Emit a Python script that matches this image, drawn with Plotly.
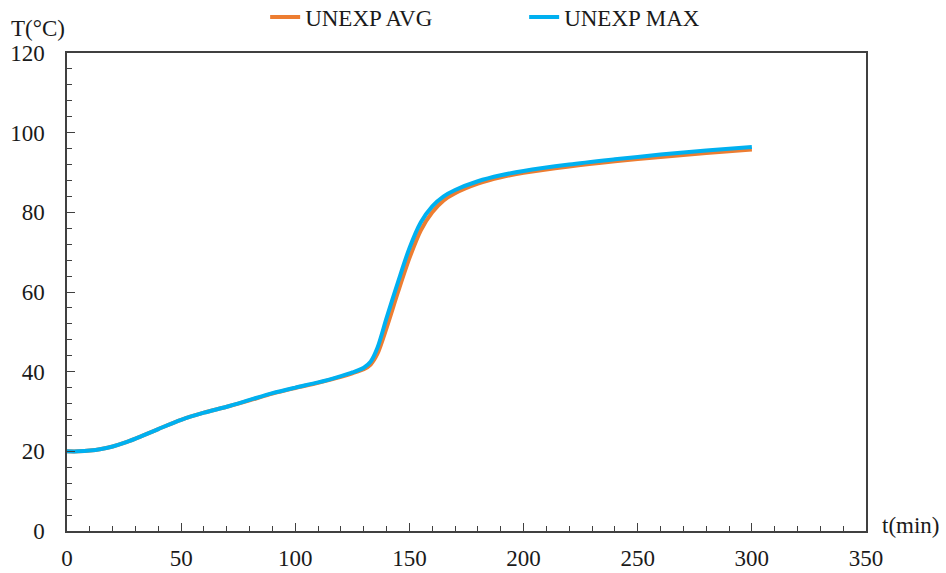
import plotly.graph_objects as go

t_min = [0, 5, 10, 15, 20, 25, 30, 40, 50, 60, 70, 80, 90, 100, 110, 120, 125, 130, 133, 136,
         140, 145, 150, 155, 160, 165, 170, 180, 190, 200, 220, 240, 260, 280, 300]
unexp_max = [20, 20, 20.2, 20.6, 21.2, 22.1, 23.2, 25.6, 27.9, 29.7, 31.2, 32.9, 34.6, 36.0, 37.3,
             38.9, 39.8, 41.0, 42.5, 46.0, 53.5, 62.5, 71.0, 77.5, 81.5, 84.0, 85.6, 87.8, 89.3,
             90.4, 92.0, 93.3, 94.5, 95.5, 96.4]
unexp_avg = [20, 20, 20.2, 20.6, 21.2, 22.1, 23.2, 25.6, 27.9, 29.7, 31.2, 32.8, 34.5, 35.9, 37.2,
             38.7, 39.6, 40.6, 41.8, 44.5, 51.0, 60.0, 68.5, 75.5, 80.0, 83.0, 84.8, 87.2, 88.8,
             89.9, 91.5, 92.8, 93.9, 94.9, 95.8]

FONT = "Liberation Serif"
FS = 23
TXT = "#1a1a1a"

fig = go.Figure()
fig.add_trace(go.Scatter(x=t_min, y=unexp_avg, mode="lines", name="UNEXP AVG",
                         line=dict(color="#ED7D31", width=4, shape="spline", smoothing=0.8)))
fig.add_trace(go.Scatter(x=t_min, y=unexp_max, mode="lines", name="UNEXP MAX",
                         line=dict(color="#00B0F0", width=4, shape="spline", smoothing=0.8)))

axis_common = dict(showgrid=False, zeroline=False, showline=True, linecolor="#404040",
                   linewidth=1.5, mirror=True, ticks="inside", ticklen=8, tickwidth=1,
                   tickcolor="#404040", tickfont=dict(family=FONT, size=FS, color=TXT),
                   automargin=False)

fig.update_xaxes(range=[0, 350], dtick=50, tick0=0, ticklabelstandoff=6,
                 minor=dict(dtick=10, ticks="inside", ticklen=5, tickcolor="#404040"),
                 **axis_common)
fig.update_yaxes(range=[0, 120], dtick=20, tick0=0, ticklabelstandoff=16,
                 minor=dict(dtick=4, ticks="inside", ticklen=5, tickcolor="#404040"),
                 **axis_common)

fig.update_layout(
    width=946, height=573,
    margin=dict(l=67, r=80, t=53, b=42, autoexpand=False),
    plot_bgcolor="white", paper_bgcolor="white",
    font=dict(family=FONT, size=FS, color=TXT),
    showlegend=True,
    legend=dict(orientation="h", x=0.248, xanchor="left", y=1.12, yanchor="top",
                yref="paper", entrywidth=214, entrywidthmode="pixels",
                itemwidth=30, font=dict(family=FONT, size=FS, color=TXT),
                bgcolor="rgba(0,0,0,0)"),
    annotations=[
        dict(text="T(°C)", xref="paper", yref="paper", x=-0.073, y=1.0, xanchor="left",
             yanchor="bottom", yshift=10, showarrow=False, font=dict(family=FONT, size=FS, color=TXT)),
        dict(text="t(min)", xref="paper", yref="paper", x=1.0, y=0.0, xanchor="left",
             yanchor="middle", xshift=14, yshift=6, showarrow=False, font=dict(family=FONT, size=FS, color=TXT)),
    ],
)

fig.write_html("out.html")
